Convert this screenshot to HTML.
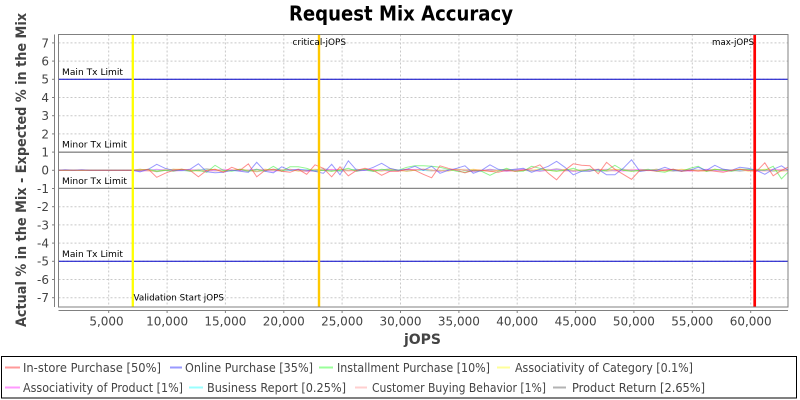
<!DOCTYPE html>
<html>
<head>
<meta charset="utf-8">
<style>
  html, body { margin: 0; padding: 0; background: #ffffff; }
  svg { display: block; }
  text { font-family: "DejaVu Sans", "Liberation Sans", sans-serif; }
</style>
</head>
<body>
<svg width="800" height="400" viewBox="0 0 800 400" xmlns="http://www.w3.org/2000/svg">
  <defs>
    <clipPath id="plotclip">
      <rect x="58.5" y="34.5" width="729.5" height="272.5"/>
    </clipPath>
  </defs>

  <rect x="0" y="0" width="800" height="400" fill="#ffffff"/>

  <!-- Title -->
  <text x="289" y="20.5" font-size="20" font-weight="bold" fill="#000" textLength="224" lengthAdjust="spacingAndGlyphs">Request Mix Accuracy</text>

  <!-- Grid -->
  <g stroke="#c8c8c8" stroke-width="1" stroke-dasharray="2,2" fill="none">
    <line x1="58.5" y1="42.9" x2="788" y2="42.9"/>
    <line x1="58.5" y1="61.1" x2="788" y2="61.1"/>
    <line x1="58.5" y1="79.3" x2="788" y2="79.3"/>
    <line x1="58.5" y1="97.5" x2="788" y2="97.5"/>
    <line x1="58.5" y1="115.7" x2="788" y2="115.7"/>
    <line x1="58.5" y1="133.9" x2="788" y2="133.9"/>
    <line x1="58.5" y1="152.1" x2="788" y2="152.1"/>
    <line x1="58.5" y1="170.3" x2="788" y2="170.3"/>
    <line x1="58.5" y1="188.5" x2="788" y2="188.5"/>
    <line x1="58.5" y1="206.7" x2="788" y2="206.7"/>
    <line x1="58.5" y1="224.9" x2="788" y2="224.9"/>
    <line x1="58.5" y1="243.1" x2="788" y2="243.1"/>
    <line x1="58.5" y1="261.3" x2="788" y2="261.3"/>
    <line x1="58.5" y1="279.5" x2="788" y2="279.5"/>
    <line x1="58.5" y1="297.7" x2="788" y2="297.7"/>

    <line x1="108.7" y1="34.5" x2="108.7" y2="307"/>
    <line x1="167.1" y1="34.5" x2="167.1" y2="307"/>
    <line x1="225.4" y1="34.5" x2="225.4" y2="307"/>
    <line x1="283.8" y1="34.5" x2="283.8" y2="307"/>
    <line x1="342.1" y1="34.5" x2="342.1" y2="307"/>
    <line x1="400.5" y1="34.5" x2="400.5" y2="307"/>
    <line x1="458.9" y1="34.5" x2="458.9" y2="307"/>
    <line x1="517.2" y1="34.5" x2="517.2" y2="307"/>
    <line x1="575.6" y1="34.5" x2="575.6" y2="307"/>
    <line x1="633.9" y1="34.5" x2="633.9" y2="307"/>
    <line x1="692.3" y1="34.5" x2="692.3" y2="307"/>
    <line x1="750.7" y1="34.5" x2="750.7" y2="307"/>
  </g>

  <!-- Limit lines -->
  <line x1="58.5" y1="79.3" x2="788" y2="79.3" stroke="#0000c8" stroke-width="1"/>
  <line x1="58.5" y1="261.3" x2="788" y2="261.3" stroke="#0000c8" stroke-width="1"/>
  <line x1="58.5" y1="152.2" x2="788" y2="152.2" stroke="#888888" stroke-width="1.3"/>
  <line x1="58.5" y1="188.4" x2="788" y2="188.4" stroke="#888888" stroke-width="1.3"/>

  <!-- Series -->
  <g clip-path="url(#plotclip)">
    <g transform="translate(6.8 170.3) scale(8.33 -1)" fill="none" stroke-width="1" stroke-linejoin="miter">
      <polyline vector-effect="non-scaling-stroke" stroke="#808080" stroke-opacity="0.5"
        points="6,0 15,0 16,1 18,-1.5 20,1 22,-1 24,1.5 26,-1 28,1 30,-1.5 32,1 34,0 36,-1 38,1.5 40,-1 42,1 44,-1 46,1.5 48,-1 50,1 52,-1 54,1 56,-1.5 58,1 60,-1 62,1 64,-1 66,1.5 68,-1 70,1 72,-1 74,1 76,-1 78,1 80,-1 82,1 84,-1 86,1 88,-1 90,1 92,-1 94,1"/>
      <polyline vector-effect="non-scaling-stroke" stroke="#ffafaf" stroke-opacity="0.6"
        points="6,0 15,0 17,-1 19,1 21,-0.5 23,1 25,-1 27,0.5 29,-1 31,1 33,-1 35,0.5 37,-1 39,1 41,-1 43,1 45,0 47,-1 49,1 51,-1 53,0.5 55,1 57,-1 59,0 61,1 63,-1 65,1 67,-1 69,0.5 71,1 73,-1 75,1 77,-0.5 79,1 81,-1 83,0 85,1 87,-1 89,1 91,-1 93,1 94,0"/>
      <polyline vector-effect="non-scaling-stroke" stroke="#55ffff" stroke-opacity="0.6"
        points="6,0 15,0 18,0.5 21,-0.5 24,0.5 27,-0.5 30,0.5 33,-0.5 36,0.5 39,-0.5 42,0.5 45,-0.5 48,0.5 51,-0.5 54,0.5 57,-0.5 60,0.5 63,-0.5 66,0.5 69,-0.5 72,0.5 75,-0.5 78,0.5 81,-0.5 84,0.5 87,-0.5 90,0.5 93,-0.5 94,0"/>
      <polyline vector-effect="non-scaling-stroke" stroke="#ff55ff" stroke-opacity="0.55"
        points="6,0 15,0 16,-1 18,1 20,-1 22,0.5 24,-1 26,1 28,-0.5 30,1 32,-1 34,1 36,-1 38,0 40,1 42,-1 44,1 46,-1 48,0.5 50,1 52,-1 54,1 56,-1 58,0.5 60,-1 62,1 64,-1 66,1 68,-1 70,0 72,1 74,-1 76,1 78,-0.5 80,1 82,-1 84,1 86,-1 88,0.5 90,-1 92,1 94,-1"/>
      <polyline vector-effect="non-scaling-stroke" stroke="#ffcc33" stroke-opacity="0.6"
        points="6,0 15,0 16,1 17,0 18,-1 19,0 20,1 21,1 22,0 23,-1 24,0 25,1 26,-1 27,0 28,1 29,0 30,-1 31,1 32,0 33,0 34,1 35,-1 36,0 37,1 38,0 39,-1 40,1 41,0 42,0 43,1 44,0 45,-1 46,1 47,0 48,-1 49,0 50,1 51,0 52,0 53,-1 54,1 55,0 56,1 57,0 58,-1 59,0 60,1 61,-1 62,0 63,0 64,1 65,0 66,-1 67,1 68,0 69,0 70,-1 71,1 72,0 73,1 74,0 75,-1 76,0 77,0 78,1 79,-1 80,0 81,1 82,0 83,0 84,-1 85,1 86,0 87,0 88,1 89,-1 90,0 91,1 92,0 93,-1 94,0"/>
      <polyline vector-effect="non-scaling-stroke" stroke="#33ee33" stroke-opacity="0.55"
        points="6,0 15,0 16,0 17,1 18,-1 19,0 20,-1 21,1 22,-1 23,0 24,-2 25,5 26,0 27,-1 28,1 29,-1 30,1 31,-1 32,4 33,-1 34,3.5 35,3.5 36,2 37,-1 38,0 39,-1 40,0 41,2 42,-1 43,1 44,-1 45,1 46,0 47,0 48,3 49,4.5 50,4.5 51,4 52,3 53,1 54,-1 55,-2 56,0 57,-1 58,-5 59,-1 60,2 61,-1 62,-1 63,4 64,2 65,0 66,-1 67,0 68,2 69,-1 70,1 71,-1 72,0 73,5 74,0 75,-1 76,0 77,1 78,-1 79,-2 80,1 81,-1 82,2 83,4 84,-1 85,1 86,0 87,-1 88,1 89,1 90,0 91,0 92,4 93,-8.5 94,0"/>
      <polyline vector-effect="non-scaling-stroke" stroke="#5555ff" stroke-opacity="0.6"
        points="6,0 7,0.5 8,0 9,0.5 10,0 11,0 12,0 13,0 14,0 15,0 16,-1.5 17,1 18,6 19,2 20,0 21,0 22,1 23,6.5 24,-1.5 25,-2.5 26,-2 27,0 28,-1 29,-2 30,8 31,-1 32,-2.5 33,3.5 34,0 35,1 36,0 37,-1 38,-3 39,6 40,-4.5 41,9.5 42,0 43,0 44,3 45,7 46,2 47,0 48,1 49,4 50,0 51,4 52,-3 53,0 54,2 55,4.5 56,-3 57,0 58,5.5 59,1 60,0 61,1 62,2 63,-2 64,1 65,4 66,9 67,3 68,-4.5 69,-1 70,-1 71,1 72,-4.5 73,-4.5 74,2 75,10.5 76,-1 77,0 78,0 79,3 80,0 81,-1 82,0 83,3 84,0 85,5 86,1 87,0 88,3 89,2 90,0 91,-4 92,1 93,4.5 94,-1"/>
      <polyline vector-effect="non-scaling-stroke" stroke="#ff4444" stroke-opacity="0.6"
        points="6,0 15,0 16,0 17,1 18,-7 19,-3 20,0 21,1 22,0 23,-6.5 24,0 25,1 26,-2 27,3 28,0 29,6.5 30,-6.5 31,0 32,1 33,-1 34,-2 35,1 36,-4 37,5.5 38,2 39,-6.5 40,3.5 41,-5.5 42,0 43,2 44,0 45,-5 46,-1 47,-1 48,1 49,0 50,-4 51,-7.5 52,4.5 53,2 54,0 55,-2.5 56,0 57,0 58,-1 59,-2 60,0 61,-1 62,0 63,2 64,5.5 65,-3 66,-9.5 67,0 68,6.5 69,5 70,4.5 71,-3.5 72,8 73,1 74,-4 75,-9 76,0 77,0 78,-1 79,0 80,1 81,-1 82,0 83,-1 84,0 85,-1 86,-2 87,0 88,1 89,0 90,-1 91,7.5 92,-5.5 93,0 94,4"/>
    </g>
  </g>

  <!-- Vertical markers -->
  <line x1="132.8" y1="34.5" x2="132.8" y2="307" stroke="#ffff00" stroke-width="2.3"/>
  <line x1="319" y1="34.5" x2="319" y2="307" stroke="#ffc800" stroke-width="2.4"/>
  <line x1="754.7" y1="34.5" x2="754.7" y2="307" stroke="#ff0000" stroke-width="2.7"/>

  <!-- Marker labels -->
  <g font-size="9" fill="#000">
    <text x="62" y="75" textLength="61" lengthAdjust="spacingAndGlyphs">Main Tx Limit</text>
    <text x="62" y="147.5" textLength="65" lengthAdjust="spacingAndGlyphs">Minor Tx Limit</text>
    <text x="62" y="184" textLength="65" lengthAdjust="spacingAndGlyphs">Minor Tx Limit</text>
    <text x="62" y="257" textLength="61" lengthAdjust="spacingAndGlyphs">Main Tx Limit</text>
    <text x="292.5" y="45" textLength="53.5" lengthAdjust="spacingAndGlyphs">critical-jOPS</text>
    <text x="712" y="45" textLength="42" lengthAdjust="spacingAndGlyphs">max-jOPS</text>
    <text x="133.5" y="300.5" textLength="90.5" lengthAdjust="spacingAndGlyphs">Validation Start jOPS</text>
  </g>

  <!-- Plot border -->
  <rect x="58.5" y="34.5" width="729.5" height="272.5" fill="none" stroke="#808080" stroke-width="1"/>

  <!-- Axes -->
  <g stroke="#808080" stroke-width="1" fill="none">
    <line x1="54.5" y1="34.5" x2="54.5" y2="307"/>
    <line x1="58.5" y1="310.5" x2="788" y2="310.5"/>
    <line x1="52" y1="42.9" x2="54.5" y2="42.9"/>
    <line x1="52" y1="61.1" x2="54.5" y2="61.1"/>
    <line x1="52" y1="79.3" x2="54.5" y2="79.3"/>
    <line x1="52" y1="97.5" x2="54.5" y2="97.5"/>
    <line x1="52" y1="115.7" x2="54.5" y2="115.7"/>
    <line x1="52" y1="133.9" x2="54.5" y2="133.9"/>
    <line x1="52" y1="152.1" x2="54.5" y2="152.1"/>
    <line x1="52" y1="170.3" x2="54.5" y2="170.3"/>
    <line x1="52" y1="188.5" x2="54.5" y2="188.5"/>
    <line x1="52" y1="206.7" x2="54.5" y2="206.7"/>
    <line x1="52" y1="224.9" x2="54.5" y2="224.9"/>
    <line x1="52" y1="243.1" x2="54.5" y2="243.1"/>
    <line x1="52" y1="261.3" x2="54.5" y2="261.3"/>
    <line x1="52" y1="279.5" x2="54.5" y2="279.5"/>
    <line x1="52" y1="297.7" x2="54.5" y2="297.7"/>
    <line x1="108.7" y1="310.5" x2="108.7" y2="313"/>
    <line x1="167.1" y1="310.5" x2="167.1" y2="313"/>
    <line x1="225.4" y1="310.5" x2="225.4" y2="313"/>
    <line x1="283.8" y1="310.5" x2="283.8" y2="313"/>
    <line x1="342.1" y1="310.5" x2="342.1" y2="313"/>
    <line x1="400.5" y1="310.5" x2="400.5" y2="313"/>
    <line x1="458.9" y1="310.5" x2="458.9" y2="313"/>
    <line x1="517.2" y1="310.5" x2="517.2" y2="313"/>
    <line x1="575.6" y1="310.5" x2="575.6" y2="313"/>
    <line x1="633.9" y1="310.5" x2="633.9" y2="313"/>
    <line x1="692.3" y1="310.5" x2="692.3" y2="313"/>
    <line x1="750.7" y1="310.5" x2="750.7" y2="313"/>
  </g>

  <!-- Y tick labels -->
  <g font-size="12" fill="#444" text-anchor="end">
    <text x="49" y="47.3">7</text>
    <text x="49" y="65.5">6</text>
    <text x="49" y="83.7">5</text>
    <text x="49" y="101.9">4</text>
    <text x="49" y="120.1">3</text>
    <text x="49" y="138.3">2</text>
    <text x="49" y="156.5">1</text>
    <text x="49" y="174.7">0</text>
    <text x="49" y="192.9">-1</text>
    <text x="49" y="211.1">-2</text>
    <text x="49" y="229.3">-3</text>
    <text x="49" y="247.5">-4</text>
    <text x="49" y="265.7">-5</text>
    <text x="49" y="283.9">-6</text>
    <text x="49" y="302.1">-7</text>
  </g>

  <!-- X tick labels -->
  <g font-size="12" fill="#444" text-anchor="middle">
    <text x="106.5" y="325.5">5,000</text>
    <text x="167.1" y="325.5">10,000</text>
    <text x="225.4" y="325.5">15,000</text>
    <text x="283.8" y="325.5">20,000</text>
    <text x="342.1" y="325.5">25,000</text>
    <text x="400.5" y="325.5">30,000</text>
    <text x="458.9" y="325.5">35,000</text>
    <text x="517.2" y="325.5">40,000</text>
    <text x="575.6" y="325.5">45,000</text>
    <text x="633.9" y="325.5">50,000</text>
    <text x="692.3" y="325.5">55,000</text>
    <text x="750.7" y="325.5">60,000</text>
  </g>

  <!-- Axis labels -->
  <text x="422.5" y="344" font-size="14" font-weight="bold" fill="#444" text-anchor="middle">jOPS</text>
  <text transform="translate(26 170) rotate(-90)" x="0" y="0" font-size="14" font-weight="bold" fill="#444" text-anchor="middle" textLength="314" lengthAdjust="spacingAndGlyphs">Actual % in the Mix - Expected % in the Mix</text>

  <!-- Legend -->
  <rect x="1.5" y="356.5" width="795" height="41.5" fill="#fff" stroke="#000" stroke-width="1"/>
  <g stroke-width="2" stroke-opacity="0.6">
    <line x1="5" y1="367.5" x2="20" y2="367.5" stroke="#ff5555"/>
    <line x1="170" y1="367.5" x2="182" y2="367.5" stroke="#5555ff"/>
    <line x1="319" y1="367.5" x2="333" y2="367.5" stroke="#55ff55"/>
    <line x1="497" y1="367.5" x2="510" y2="367.5" stroke="#ffff55"/>
    <line x1="5" y1="387.5" x2="20" y2="387.5" stroke="#ff55ff"/>
    <line x1="189" y1="387.5" x2="203" y2="387.5" stroke="#55ffff"/>
    <line x1="355" y1="387.5" x2="367" y2="387.5" stroke="#ffafaf"/>
    <line x1="553" y1="387.5" x2="566" y2="387.5" stroke="#808080"/>
  </g>
  <g font-size="12" fill="#444">
    <text x="23" y="372" textLength="138" lengthAdjust="spacingAndGlyphs">In-store Purchase [50%]</text>
    <text x="185" y="372" textLength="128" lengthAdjust="spacingAndGlyphs">Online Purchase [35%]</text>
    <text x="337" y="372" textLength="153" lengthAdjust="spacingAndGlyphs">Installment Purchase [10%]</text>
    <text x="515" y="372" textLength="178" lengthAdjust="spacingAndGlyphs">Associativity of Category [0.1%]</text>
    <text x="23" y="392" textLength="160" lengthAdjust="spacingAndGlyphs">Associativity of Product [1%]</text>
    <text x="207" y="392" textLength="139" lengthAdjust="spacingAndGlyphs">Business Report [0.25%]</text>
    <text x="372" y="392" textLength="174" lengthAdjust="spacingAndGlyphs">Customer Buying Behavior [1%]</text>
    <text x="572" y="392" textLength="133" lengthAdjust="spacingAndGlyphs">Product Return [2.65%]</text>
  </g>
</svg>
</body>
</html>
